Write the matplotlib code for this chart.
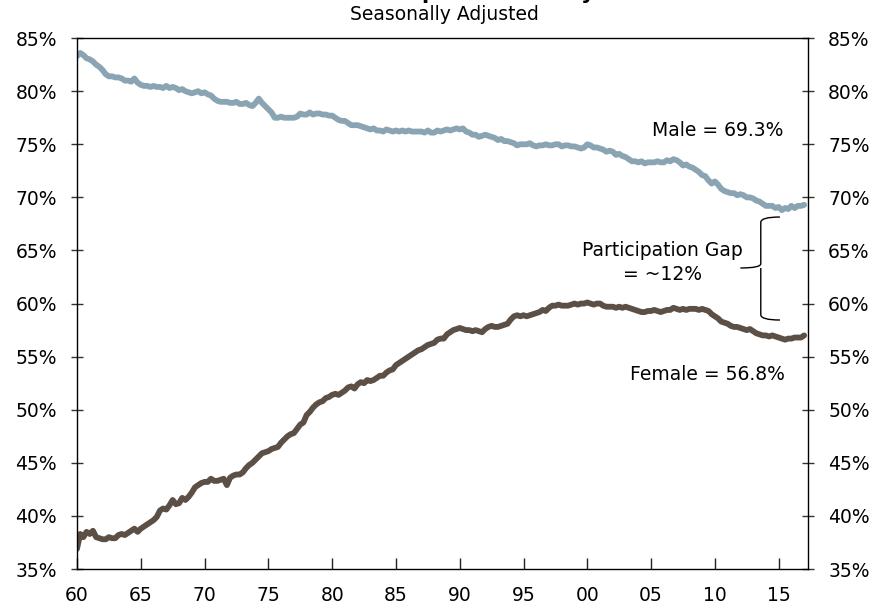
import numpy as np
import matplotlib.pyplot as plt
from matplotlib.path import Path
from matplotlib.patches import PathPatch
from matplotlib.ticker import FuncFormatter

# quarterly readings, 1960Q1 .. 2017Q1 (percent)
start_year = 1960
male = [
    83.3, 83.6, 83.4, 83.1,  83.0, 82.8, 82.5, 82.3,  82.0, 81.6, 81.4, 81.4,
    81.3, 81.3, 81.2, 81.0,  81.0, 80.9, 81.2, 80.8,  80.6, 80.5, 80.5, 80.4,
    80.5, 80.4, 80.4, 80.3,  80.5, 80.3, 80.4, 80.3,  80.1, 80.2, 80.0, 79.9,
    79.8, 79.9, 80.0, 79.8,  79.9, 79.7, 79.6, 79.3,  79.1, 79.0, 79.0, 79.0,
    78.9, 78.9, 79.0, 78.8,  78.8, 78.9, 78.7, 78.6,  78.9, 79.3, 78.9, 78.6,
    78.3, 78.0, 77.5, 77.5,  77.6, 77.5, 77.5, 77.5,  77.5, 77.6, 77.9, 77.8,
    77.8, 78.0, 77.8, 77.9,  77.9, 77.8, 77.8, 77.7,  77.7, 77.5, 77.3, 77.2,
    77.2, 77.0, 76.8, 76.8,  76.8, 76.7, 76.6, 76.5,  76.4, 76.5, 76.3, 76.3,
    76.2, 76.4, 76.3, 76.2,  76.3, 76.2, 76.3, 76.2,  76.3, 76.2, 76.2, 76.2,
    76.2, 76.1, 76.3, 76.1,  76.1, 76.3, 76.2, 76.3,  76.4, 76.3, 76.4, 76.5,
    76.4, 76.5, 76.2, 76.1,  75.9, 75.9, 75.7, 75.8,  75.9, 75.8, 75.7, 75.6,
    75.4, 75.5, 75.3, 75.3,  75.2, 75.1, 74.9, 75.0,  75.0, 75.0, 75.1, 74.9,
    74.8, 74.9, 74.9, 75.0,  74.9, 74.9, 75.0, 75.0,  74.8, 74.9, 74.9, 74.8,
    74.8, 74.7, 74.6, 74.7,  75.0, 74.9, 74.7, 74.7,  74.6, 74.5, 74.3, 74.4,
    74.3, 74.0, 74.1, 73.9,  73.8, 73.6, 73.4, 73.4,  73.3, 73.4, 73.2, 73.3,
    73.3, 73.3, 73.4, 73.3,  73.3, 73.5, 73.4, 73.6,  73.5, 73.3, 73.0, 73.1,
    72.9, 72.8, 72.6, 72.4,  72.1, 72.0, 71.6, 71.3,  71.5, 71.2, 70.8, 70.6,
    70.5, 70.4, 70.4, 70.2,  70.3, 70.2, 70.0, 70.0,  69.9, 69.7, 69.6, 69.4,
    69.2, 69.2, 69.2, 69.0,  69.1, 68.8, 69.0, 68.9,  69.2, 69.0, 69.2, 69.2,
    69.3,
]
female = [
    36.9, 38.3, 38.0, 38.5,  38.3, 38.6, 38.0, 37.9,  37.8, 37.8, 38.0, 37.9,
    37.9, 38.2, 38.3, 38.2,  38.4, 38.6, 38.8, 38.5,  38.8, 39.0, 39.2, 39.4,
    39.6, 39.9, 40.5, 40.7,  40.6, 41.0, 41.5, 41.1,  41.2, 41.7, 41.5, 41.8,
    42.2, 42.7, 42.9, 43.1,  43.2, 43.2, 43.5, 43.3,  43.3, 43.4, 43.5, 42.9,
    43.6, 43.8, 43.9, 43.9,  44.1, 44.5, 44.8, 45.0,  45.3, 45.6, 45.9, 46.0,
    46.1, 46.3, 46.4, 46.5,  46.9, 47.2, 47.5, 47.7,  47.8, 48.2, 48.6, 48.8,
    49.5, 49.8, 50.2, 50.5,  50.7, 50.8, 51.1, 51.2,  51.4, 51.5, 51.4, 51.6,
    51.8, 52.1, 52.2, 52.0,  52.4, 52.6, 52.5, 52.8,  52.7, 52.8, 53.0, 53.2,
    53.2, 53.5, 53.7, 53.8,  54.2, 54.4, 54.6, 54.8,  55.0, 55.2, 55.4, 55.6,
    55.7, 55.9, 56.1, 56.2,  56.3, 56.6, 56.7, 56.7,  57.1, 57.3, 57.5, 57.6,
    57.7, 57.6, 57.5, 57.5,  57.4, 57.5, 57.4, 57.3,  57.6, 57.8, 57.9, 57.8,
    57.8, 57.9, 58.0, 58.1,  58.5, 58.8, 58.9, 58.8,  58.9, 58.8, 58.9, 59.0,
    59.1, 59.2, 59.4, 59.3,  59.6, 59.8, 59.8, 59.9,  59.8, 59.8, 59.8, 59.9,
    60.0, 59.9, 60.0, 60.0,  60.1, 60.0, 59.9, 60.0,  60.0, 59.8, 59.7, 59.7,
    59.7, 59.6, 59.7, 59.6,  59.7, 59.6, 59.5, 59.4,  59.3, 59.2, 59.2, 59.3,
    59.3, 59.4, 59.3, 59.2,  59.3, 59.4, 59.4, 59.6,  59.5, 59.4, 59.5, 59.4,
    59.5, 59.5, 59.5, 59.4,  59.5, 59.4, 59.3, 59.0,  58.8, 58.6, 58.3, 58.2,
    58.1, 57.9, 57.8, 57.8,  57.7, 57.6, 57.5, 57.6,  57.4, 57.2, 57.1, 57.0,
    57.0, 56.9, 57.0, 56.9,  56.8, 56.7, 56.6, 56.7,  56.7, 56.8, 56.8, 56.8,
    57.0,
]
male_label = 'Male = 69.3%'
female_label = 'Female = 56.8%'
gap_label = 'Participation Gap\n= ~12%'

t = start_year + np.arange(len(male)) / 4.0
fs = 13.5

fig = plt.figure(figsize=(8.88, 6.05), dpi=100)
ax = fig.add_axes([0.0867, 0.0595, 0.9099 - 0.0867, 0.937 - 0.0595])

ax.plot(t, male, color='#8ba4b3', lw=4.2, solid_capstyle='round')
ax.plot(t, female, color='#5c5046', lw=4.2, solid_capstyle='round')

ax.set_xlim(1960, 2017.3)
ax.set_ylim(35, 85)
ax.set_xticks(np.arange(1960, 2016, 5))
ax.xaxis.set_major_formatter(FuncFormatter(lambda v, p: f'{int(round(v)) % 100:02d}'))
ax.set_yticks(np.arange(35, 86, 5))
ax.yaxis.set_major_formatter(FuncFormatter(lambda v, p: f'{v:.0f}%'))

ax.tick_params(axis='x', direction='in', length=8, width=1, pad=12, labelsize=fs, color='#222')
ax.tick_params(axis='y', direction='inout', length=8, width=1, pad=10.5, labelsize=fs,
               color='#333', right=True, labelright=True)
for s in ax.spines.values():
    s.set_linewidth(1.0)
    s.set_color('black')

ax.text(2015.4, 76.3, male_label, ha='right', va='center', fontsize=fs)
ax.text(2015.5, 53.3, female_label, ha='right', va='center', fontsize=fs)
ax.text(2005.9, 63.9, gap_label, ha='center', va='center', fontsize=fs, linespacing=1.35)

# curly brace between the two lines
xr, xm, xt = 2015.1, 2013.6, 2012.0
yt, ymid, yb = 68.15, 63.35, 58.45
verts = [(xr, yt), (xm, yt), (xm, yt - 0.5),
         (xm, ymid + 0.4),
         (xm, ymid), (xt, ymid),
         (xm, ymid), (xm, ymid - 0.4),
         (xm, yb + 0.5),
         (xm, yb), (xr, yb)]
codes = [Path.MOVETO, Path.CURVE3, Path.CURVE3,
         Path.LINETO,
         Path.CURVE3, Path.CURVE3,
         Path.MOVETO, Path.LINETO,
         Path.LINETO,
         Path.CURVE3, Path.CURVE3]
ax.add_patch(PathPatch(Path(verts, codes), fill=False, lw=1.0, color='black'))

fig.text(0.5, 1 - 14 / 605, 'Seasonally Adjusted', ha='center', va='center', fontsize=fs)
fig.text(0.5, 1 + 1 / 605, 'Labor Force Participation Rate by Gender', ha='center',
         va='baseline', fontsize=15, fontweight='bold')

fig.savefig('out.png', dpi=100)
